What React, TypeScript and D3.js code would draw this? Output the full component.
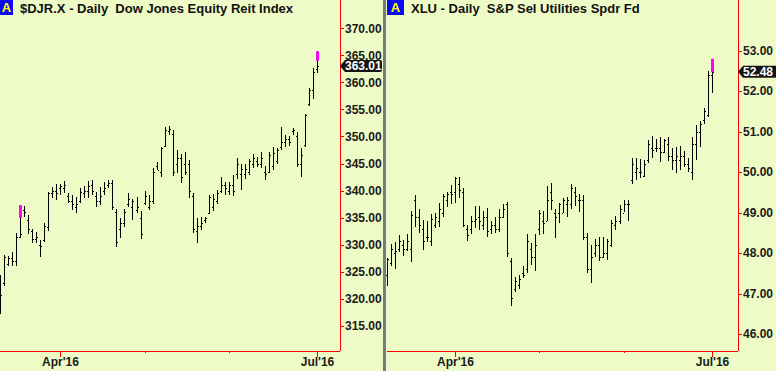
import * as d3 from "d3";

// OHLC bars: [open, high, low, close]
const DJR_BARS: [number, number, number, number][] = [
  [319.0, 324.4, 317.3, 320.7], [323.0, 328.2, 322.4, 327.8], [326.5, 327.9, 326.0, 327.5], [327.5, 328.6, 326.0, 327.0],
  [327.0, 332.1, 326.0, 331.5], [331.5, 337.3, 331.2, 332.0], [336.5, 337.2, 335.2, 336.0], [334.5, 335.5, 332.0, 333.0],
  [332.5, 333.0, 330.4, 331.0], [331.0, 332.4, 330.3, 331.5], [330.0, 330.9, 327.7, 329.7], [330.8, 334.0, 330.6, 333.5],
  [333.2, 339.8, 332.6, 339.5], [339.5, 340.7, 338.7, 340.0], [340.0, 341.2, 338.3, 339.5], [340.5, 341.3, 339.2, 340.8],
  [340.5, 341.8, 339.6, 341.0], [339.0, 339.6, 337.7, 338.0], [338.0, 339.2, 336.5, 337.5], [337.0, 338.9, 335.8, 337.5],
  [338.0, 340.4, 337.8, 339.8], [339.5, 340.8, 338.7, 340.0], [340.0, 341.8, 338.7, 340.8], [341.0, 342.0, 339.2, 340.0],
  [339.0, 339.7, 337.0, 338.0], [338.0, 340.7, 337.3, 339.0], [340.0, 341.6, 339.2, 340.5], [341.0, 342.0, 340.4, 341.5],
  [341.5, 342.0, 336.4, 337.0], [336.0, 336.7, 329.6, 330.5], [333.0, 334.9, 331.2, 334.0], [334.0, 336.7, 333.3, 336.0],
  [337.5, 339.6, 337.0, 338.5], [337.0, 338.4, 334.6, 338.0], [336.5, 338.9, 335.9, 337.0], [335.0, 336.2, 331.1, 332.0],
  [337.7, 339.9, 337.3, 339.0], [337.0, 339.2, 336.4, 338.0], [338.0, 344.1, 337.5, 343.5], [344.5, 345.2, 343.8, 343.9],
  [343.5, 348.1, 342.6, 347.8], [348.3, 351.7, 348.1, 351.2], [351.0, 351.9, 350.3, 351.4], [350.5, 351.2, 342.7, 343.5],
  [345.0, 347.5, 343.3, 346.0], [346.0, 346.7, 341.5, 342.5], [345.0, 347.2, 342.9, 343.5], [345.0, 345.7, 338.6, 340.0],
  [339.0, 339.5, 332.1, 333.0], [332.5, 334.9, 330.4, 333.5], [333.5, 335.1, 332.7, 334.0], [334.5, 335.2, 334.1, 335.0],
  [335.8, 339.2, 335.7, 338.8], [337.0, 339.3, 336.3, 338.5], [338.0, 340.1, 337.6, 339.6], [340.0, 342.5, 339.5, 341.0],
  [341.0, 341.6, 339.2, 340.5], [340.0, 341.6, 339.2, 341.0], [341.0, 342.9, 339.1, 340.0], [343.0, 346.0, 342.1, 345.0],
  [343.0, 344.9, 340.2, 344.0], [343.0, 344.9, 342.1, 344.0], [343.5, 345.8, 342.9, 345.5], [345.0, 346.7, 344.2, 346.0],
  [345.5, 346.3, 344.3, 345.0], [345.0, 347.2, 344.2, 346.0], [343.5, 344.5, 342.0, 343.0], [343.5, 347.2, 343.2, 346.5],
  [344.5, 348.0, 343.9, 347.0], [345.5, 347.8, 344.9, 347.5], [348.0, 351.7, 347.5, 349.0], [349.0, 350.3, 348.0, 349.5],
  [349.5, 350.0, 348.2, 349.0], [351.0, 351.5, 350.3, 351.2], [350.0, 350.9, 344.4, 345.0], [345.0, 347.8, 342.6, 346.5],
  [348.5, 354.1, 348.1, 354.0], [356.0, 359.0, 355.7, 358.5], [358.5, 362.6, 357.0, 362.0], [362.5, 365.7, 361.7, 363.01],
];

const XLU_BARS: [number, number, number, number][] = [
  [47.46, 47.87, 47.19, 47.85], [47.75, 48.22, 47.68, 48.1], [48.0, 48.28, 47.61, 48.05], [48.1, 48.45, 48.03, 48.3],
  [48.2, 48.32, 47.93, 48.1], [48.1, 48.46, 48.05, 48.3], [48.1, 49.04, 47.79, 48.95], [49.3, 49.43, 48.65, 48.9],
  [48.9, 49.08, 48.49, 48.7], [48.6, 48.82, 48.08, 48.3], [48.4, 48.78, 48.28, 48.4], [48.3, 48.97, 48.18, 48.85],
  [48.7, 49.0, 48.61, 48.9], [48.8, 49.24, 48.65, 49.1], [49.0, 49.47, 48.88, 49.4], [49.3, 49.5, 49.15, 49.45],
  [49.5, 49.68, 49.2, 49.45], [49.5, 49.89, 49.23, 49.85], [49.7, 49.89, 49.37, 49.55], [49.5, 49.6, 48.65, 48.7],
  [48.6, 48.69, 48.3, 48.45], [48.6, 48.92, 48.47, 48.8], [48.8, 49.17, 48.61, 48.85], [48.9, 49.16, 48.57, 48.8],
  [48.7, 49.04, 48.57, 48.9], [48.9, 49.12, 48.4, 48.55], [48.6, 48.78, 48.46, 48.7], [48.7, 48.9, 48.5, 48.6],
  [48.6, 49.1, 48.53, 48.9], [48.9, 49.2, 48.86, 49.1], [49.2, 49.25, 47.91, 48.0], [47.8, 47.87, 46.7, 46.9],
  [47.1, 47.4, 47.03, 47.3], [47.2, 47.46, 47.1, 47.35], [47.5, 47.68, 47.38, 47.45], [47.6, 48.47, 47.5, 48.3],
  [48.1, 48.24, 47.7, 47.9], [47.9, 48.46, 47.56, 48.2], [48.6, 49.06, 48.45, 49.0], [48.8, 49.04, 48.47, 48.75],
  [48.8, 49.66, 48.78, 49.3], [49.5, 49.72, 49.06, 49.3], [49.0, 49.08, 48.38, 48.9], [49.0, 49.23, 48.75, 49.2],
  [49.0, 49.35, 48.98, 49.3], [49.2, 49.38, 48.9, 49.3], [49.2, 49.71, 49.08, 49.6], [49.5, 49.64, 49.16, 49.4],
  [49.3, 49.46, 49.02, 49.3], [49.3, 49.43, 48.32, 48.4], [48.4, 48.5, 47.51, 47.6], [47.6, 48.2, 47.25, 47.9],
  [48.0, 48.34, 47.91, 48.2], [48.2, 48.39, 47.8, 47.9], [47.9, 48.4, 47.87, 48.0], [48.0, 48.35, 47.84, 48.3],
  [48.2, 48.82, 48.16, 48.75], [48.7, 48.92, 48.57, 48.8], [48.8, 49.19, 48.73, 49.1], [49.0, 49.31, 49.02, 49.2],
  [49.2, 49.31, 48.8, 49.2], [49.8, 50.34, 49.7, 50.2], [50.0, 50.34, 49.81, 50.1], [50.0, 50.32, 49.86, 50.0],
  [49.9, 50.31, 49.87, 50.2], [50.3, 50.79, 50.23, 50.7], [50.6, 50.9, 50.34, 50.55], [50.6, 50.81, 50.5, 50.6],
  [50.6, 50.87, 50.26, 50.5], [50.5, 50.83, 50.46, 50.8], [50.7, 50.87, 50.28, 50.4], [50.4, 50.59, 50.04, 50.3],
  [50.3, 50.61, 49.97, 50.4], [50.3, 50.64, 50.05, 50.4], [50.4, 50.51, 50.13, 50.2], [50.2, 50.34, 50.01, 50.1],
  [50.0, 50.86, 49.81, 50.7], [50.7, 51.16, 50.3, 51.0], [51.0, 51.27, 50.63, 51.2], [51.3, 51.58, 51.19, 51.5],
  [51.4, 52.51, 51.35, 52.4], [52.4, 52.8, 51.95, 52.48],
];

// magenta markers: [bar index, top price, bottom price]
const DJR_MARKS: [number, number, number][] = [[5, 337.3, 335.0], [79, 365.7, 364.0]];
const XLU_MARKS: [number, number, number][] = [[81, 52.8, 52.47]];

const DJR_TICKS = d3.range(315, 371, 5);
const XLU_TICKS = d3.range(46, 54, 1);

// month ticks: [bar index, label]
const DJR_MONTHS: [number, string][] = [[15, "Apr'16"], [36, ""], [57, ""], [79, "Jul'16"]];
const XLU_MONTHS: [number, string][] = [[17, "Apr'16"], [38, ""], [59, ""], [81, "Jul'16"]];

const BG = "#eefbc6";
const RED = "#ff0000";
const FONT = "'Liberation Sans', Arial, sans-serif";
const AXIS_Y = 351;

type PanelProps = {
  left: number;
  right: number; // red price-axis line
  title: string;
  bars: [number, number, number, number][];
  marks: [number, number, number][];
  ticks: number[];
  months: [number, string][];
  xRange: [number, number];
  yDomain: [number, number];
  yRange: [number, number];
  badgeW: number;
};

function Panel(p: PanelProps) {
  const x = d3.scaleLinear().domain([0, p.bars.length - 1]).range(p.xRange);
  const y = d3.scaleLinear().domain(p.yDomain).range(p.yRange);
  const fmt = d3.format(".2f");
  const last = p.bars[p.bars.length - 1][3];
  const ly = y(last);
  const px = (i: number) => Math.round(x(i));

  return (
    <g>
      {/* price axis */}
      <line x1={p.right + 0.5} x2={p.right + 0.5} y1={0} y2={AXIS_Y} stroke={RED} />
      <line x1={p.left} x2={p.right} y1={AXIS_Y + 0.5} y2={AXIS_Y + 0.5} stroke={RED} />
      {p.ticks.map((t) => (
        <g key={t}>
          <line x1={p.right} x2={p.right + 4} y1={Math.round(y(t)) + 0.5} y2={Math.round(y(t)) + 0.5} stroke={RED} />
          <text x={p.right + 5} y={y(t)} dy="0.36em" fontSize={12} fontWeight="bold" fill="#1a1a1a" fontFamily={FONT}>
            {fmt(t)}
          </text>
        </g>
      ))}

      {/* time axis */}
      {p.months.map(([i, label]) => (
        <g key={i}>
          <line x1={px(i) + 0.5} x2={px(i) + 0.5} y1={AXIS_Y} y2={AXIS_Y + (label ? 6 : 2)} stroke={RED} />
          {label && (
            <text x={px(i) + 0.5} y={366} textAnchor="middle" fontSize={12} fontWeight="bold" fill="#1a1a1a" fontFamily={FONT}>
              {label}
            </text>
          )}
        </g>
      ))}

      {/* OHLC bars */}
      {p.bars.map(([o, h, l, c], i) => {
        const cx = px(i);
        return (
          <g key={i} fill="#000">
            <rect x={cx} y={Math.round(y(h))} width={1} height={Math.max(1, Math.round(y(l)) - Math.round(y(h)))} />
            <rect x={cx - 1} y={Math.round(y(o))} width={1} height={1} />
            <rect x={cx + 1} y={Math.round(y(c))} width={1} height={1} />
          </g>
        );
      })}
      {p.marks.map(([i, top, bot]) => (
        <rect key={i} x={px(i) - 1} y={y(top)} width={3} height={y(bot) - y(top)} fill="#ff00ff" />
      ))}

      {/* last price flag */}
      <path
        d={`M${p.right},${ly} L${p.right + 5},${ly - 6} L${p.right + 40},${ly - 6} Q${p.right + 42},${ly - 6} ${p.right + 42},${ly - 4} L${p.right + 42},${ly + 4} Q${p.right + 42},${ly + 6} ${p.right + 40},${ly + 6} L${p.right + 5},${ly + 6} Z`}
        fill="#151515"
      />
      <text x={p.right + 5} y={ly} dy="0.36em" fontSize={12} fontWeight="bold" fill="#fff" fontFamily={FONT}>
        {fmt(last)}
      </text>

      {/* title */}
      <rect x={p.left} y={0} width={p.badgeW} height={15} fill="#0a0af5" />
      <text x={p.left + p.badgeW / 2} y={12} textAnchor="middle" fontSize={13} fontWeight="bold" fill="#ffff00" fontFamily={FONT}>
        A
      </text>
      <text x={p.left + p.badgeW + 7} y={13} fontSize={13} fontWeight="bold" fill="#111" fontFamily={FONT} xmlSpace="preserve">
        {p.title}
      </text>
    </g>
  );
}

export default function App() {
  return (
    <div style={{ position: "absolute", left: 0, top: 0 }}>
      <svg width={776} height={371} style={{ display: "block" }}>
        <rect width={776} height={371} fill={BG} />
        <Panel
          left={0}
          right={340}
          title={"$DJR.X - Daily  Dow Jones Equity Reit Index"}
          bars={DJR_BARS}
          marks={DJR_MARKS}
          ticks={DJR_TICKS}
          months={DJR_MONTHS}
          xRange={[0.2, 316.9]}
          yDomain={[315, 370]}
          yRange={[326, 28.2]}
          badgeW={13}
        />
        <rect x={383} y={0} width={3} height={371} fill="#7a7a7a" />
        <Panel
          left={387}
          right={738}
          title={"XLU - Daily  S&P Sel Utilities Spdr Fd"}
          bars={XLU_BARS}
          marks={XLU_MARKS}
          ticks={XLU_TICKS}
          months={XLU_MONTHS}
          xRange={[387, 711.7]}
          yDomain={[46, 53]}
          yRange={[334, 50.7]}
          badgeW={17}
        />
      </svg>
    </div>
  );
}
